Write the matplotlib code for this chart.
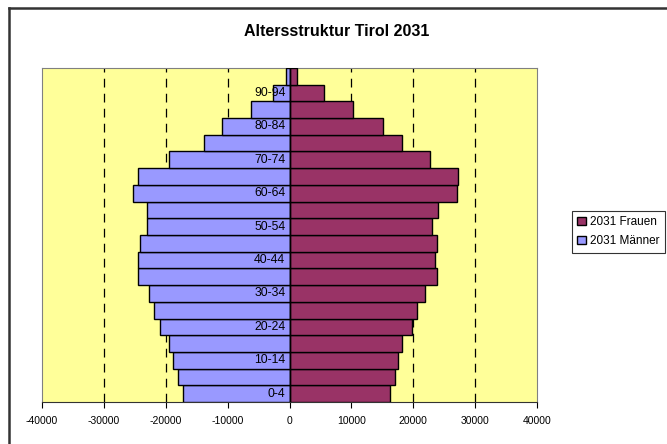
import matplotlib.pyplot as plt
from matplotlib.patches import Patch
from matplotlib.lines import Line2D
from matplotlib.transforms import offset_copy

plt.rcParams['font.family'] = ['Liberation Sans', 'DejaVu Sans']

# Altersgruppen (von unten nach oben)
age_groups = ['0-4', '5-9', '10-14', '15-19', '20-24', '25-29', '30-34', '35-39',
              '40-44', '45-49', '50-54', '55-59', '60-64', '65-69', '70-74',
              '75-79', '80-84', '85-89', '90-94', '95+']
men_2031 = [17260, 18000, 18760, 19450, 20970, 21930, 22630, 24500, 24500, 24100,
            23050, 23050, 25250, 24500, 19500, 13870, 10900, 6230, 2740, 500]
women_2031 = [16300, 17070, 17600, 18200, 19720, 20650, 21950, 23850, 23570, 23850,
              23100, 24000, 27000, 27200, 22700, 18200, 15170, 10300, 5630, 1240]
x_ticks = [-40000, -30000, -20000, -10000, 0, 10000, 20000, 30000, 40000]

W, H = 667, 444
fig = plt.figure(figsize=(W / 100, H / 100), dpi=100)

# Rahmen um das Diagramm (nur oben/links sichtbar)
fig.add_artist(Line2D([8.5 / W, 1.0], [1 - 8 / H, 1 - 8 / H], transform=fig.transFigure,
                      color='#333333', linewidth=1.8))
fig.add_artist(Line2D([8.5 / W, 8.5 / W], [0.0, 1 - 8 / H], transform=fig.transFigure,
                      color='#333333', linewidth=1.8))

ax = fig.add_axes([42 / W, (H - 402) / H, (537 - 42) / W, (402 - 68) / H])
ax.set_facecolor('#FFFF99')

pos = list(range(len(age_groups)))
ax.barh(pos, [-m for m in men_2031], height=1.0, color='#9999FF',
        edgecolor='black', linewidth=1.0, zorder=3)
ax.barh(pos, women_2031, height=1.0, color='#993366',
        edgecolor='black', linewidth=1.0, zorder=3)

ax.set_xlim(-40000, 40000)
ax.set_ylim(-0.5, len(age_groups) - 0.5)

for g in [-30000, -20000, -10000, 10000, 20000, 30000]:
    ax.axvline(g, color='black', linestyle=(0, (7, 5)), linewidth=0.9, zorder=1)

ax.set_xticks(x_ticks)
ax.set_xticklabels([str(t) for t in x_ticks], fontsize=7.5)
ax.tick_params(axis='x', direction='out', length=4, width=0.8, pad=6)

# Kategorienachse bei 0
ax.axvline(0, color='black', linewidth=1.0, zorder=4)
ax.set_yticks([])
lbl_tr = offset_copy(ax.transData, fig=fig, x=-3, y=0, units='points')
for i in pos[::2]:
    ax.text(0, i, age_groups[i], transform=lbl_tr, ha='right', va='center',
            fontsize=8.8, zorder=5)

for s in ['left', 'right', 'top']:
    ax.spines[s].set_color('#808080')
ax.spines['bottom'].set_color('#333333')

fig.text(337 / W, 1 - 32 / H, 'Altersstruktur Tirol 2031', ha='center', va='center',
         fontsize=11.5, fontweight='bold')

handles = [Patch(facecolor='#993366', edgecolor='black', label='2031 Frauen'),
           Patch(facecolor='#9999FF', edgecolor='black', label='2031 Männer')]
leg = fig.legend(handles=handles, loc='upper left', bbox_to_anchor=(572 / W, 1 - 211 / H),
                 fontsize=8.5, frameon=True, fancybox=False, handlelength=0.7,
                 handleheight=0.7, handletextpad=0.35, borderpad=0.45, labelspacing=0.6,
                 borderaxespad=0)
leg.get_frame().set_edgecolor('black')
leg.get_frame().set_linewidth(0.8)

fig.savefig('out.png', dpi=100)
